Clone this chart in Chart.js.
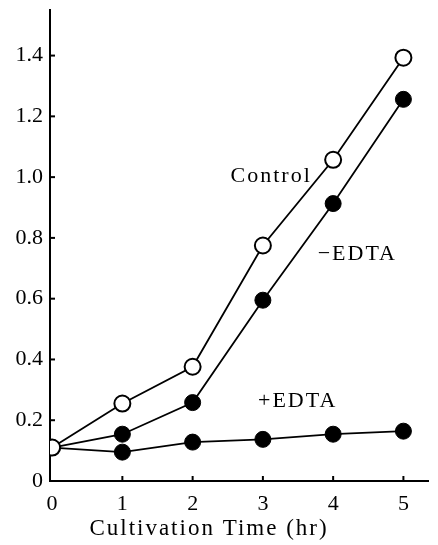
<!DOCTYPE html>
<html>
<head>
<meta charset="utf-8">
<script src="https://cdn.jsdelivr.net/npm/chart.js@4/dist/chart.umd.min.js"></script>
<style>
  html, body { margin: 0; padding: 0; background: #fff; }
  #wrap { width: 438px; height: 545px; }
</style>
</head>
<body>
<div id="wrap"><canvas id="myChart" width="438" height="545"></canvas></div>
<script>
// datos
const hours = [0, 1, 2, 3, 4, 5];
const controlVals = [0.11, 0.255, 0.376, 0.775, 1.057, 1.393];
const minusEdtaVals = [0.11, 0.154, 0.258, 0.595, 0.913, 1.256];
const plusEdtaVals = [0.11, 0.095, 0.128, 0.137, 0.154, 0.164];
const yTicks = [0, 0.2, 0.4, 0.6, 0.8, 1.0, 1.2, 1.4];
const xTicks = [0, 1, 2, 3, 4, 5];

// etiquetas de las curvas (texto + punto de anclaje en datos)
const curveLabels = [
  { text: 'Control', x: 2.54, y: 1.004 },
  { text: '\u2212EDTA', x: 3.78, y: 0.746 },
  { text: '+EDTA', x: 2.93, y: 0.262 }
];

const serif = "'Liberation Serif', 'DejaVu Serif', serif";

function toPoints(vals) {
  return hours.map((h, i) => ({ x: h, y: vals[i] }));
}

// marcas hacia adentro, etiquetas y titulo
const extras = {
  id: 'extras',
  afterDraw(chart) {
    const ctx = chart.ctx;
    const xs = chart.scales.x;
    const ys = chart.scales.y;
    const area = chart.chartArea;
    ctx.save();
    ctx.strokeStyle = '#000';
    ctx.lineWidth = 2;
    // ticks eje y
    yTicks.forEach(v => {
      if (v === 0) return;
      const py = ys.getPixelForValue(v);
      ctx.beginPath();
      ctx.moveTo(area.left, py);
      ctx.lineTo(area.left + 5, py);
      ctx.stroke();
    });
    // ticks eje x
    xTicks.forEach(v => {
      if (v === 0) return;
      const px = xs.getPixelForValue(v);
      ctx.beginPath();
      ctx.moveTo(px, area.bottom);
      ctx.lineTo(px, area.bottom - 5);
      ctx.stroke();
    });

    ctx.fillStyle = '#000';
    ctx.font = '22px ' + serif;
    ctx.textBaseline = 'middle';
    ctx.textAlign = 'left';
    ctx.letterSpacing = '2px';
    curveLabels.forEach(l => {
      ctx.fillText(l.text, xs.getPixelForValue(l.x), ys.getPixelForValue(l.y));
    });

    // titulo eje x
    ctx.font = '23px ' + serif;
    ctx.letterSpacing = '2px';
    ctx.textAlign = 'center';
    ctx.fillText('Cultivation Time (hr)', 209, 529);
    ctx.restore();
  }
};

const ctx = document.getElementById('myChart');
new Chart(ctx, {
  type: 'line',
  data: {
    datasets: [
      {
        label: 'Control',
        data: toPoints(controlVals),
        borderColor: '#000',
        borderWidth: 1.8,
        pointRadius: 8,
        pointBorderWidth: 2,
        pointBackgroundColor: '#fff',
        pointBorderColor: '#000',
        tension: 0
      },
      {
        label: '-EDTA',
        data: toPoints(minusEdtaVals),
        borderColor: '#000',
        borderWidth: 1.8,
        pointRadius: 8,
        pointBorderWidth: 1,
        pointBackgroundColor: '#000',
        pointBorderColor: '#000',
        tension: 0
      },
      {
        label: '+EDTA',
        data: toPoints(plusEdtaVals),
        borderColor: '#000',
        borderWidth: 1.8,
        pointRadius: 8,
        pointBorderWidth: 1,
        pointBackgroundColor: '#000',
        pointBorderColor: '#000',
        tension: 0
      }
    ]
  },
  options: {
    responsive: false,
    animation: false,
    layout: { padding: { top: 4, right: 0, left: 0, bottom: 0 } },
    plugins: {
      legend: { display: false },
      tooltip: { enabled: false }
    },
    scales: {
      x: {
        type: 'linear',
        min: -0.03,
        max: 5.35,
        afterFit(scale) {
          scale.height = 64;
          scale.paddingLeft = 0;
          scale.paddingRight = 0;
        },
        afterBuildTicks(scale) { scale.ticks = xTicks.map(v => ({ value: v })); },
        grid: { display: false, drawTicks: false },
        border: { display: true, color: '#000', width: 2 },
        ticks: {
          color: '#000',
          padding: 10,
          font: { family: serif, size: 22 },
          callback: v => String(v)
        }
      },
      y: {
        type: 'linear',
        min: 0,
        max: 1.55,
        afterFit(scale) {
          scale.width = 50;
          scale.paddingTop = 0;
          scale.paddingBottom = 0;
        },
        afterBuildTicks(scale) { scale.ticks = yTicks.map(v => ({ value: v })); },
        grid: { display: false, drawTicks: false },
        border: { display: true, color: '#000', width: 2 },
        ticks: {
          color: '#000',
          padding: 7,
          font: { family: serif, size: 22 },
          callback: v => (v === 0 ? '0' : v.toFixed(1))
        }
      }
    }
  },
  plugins: [extras]
});
</script>
</body>
</html>
